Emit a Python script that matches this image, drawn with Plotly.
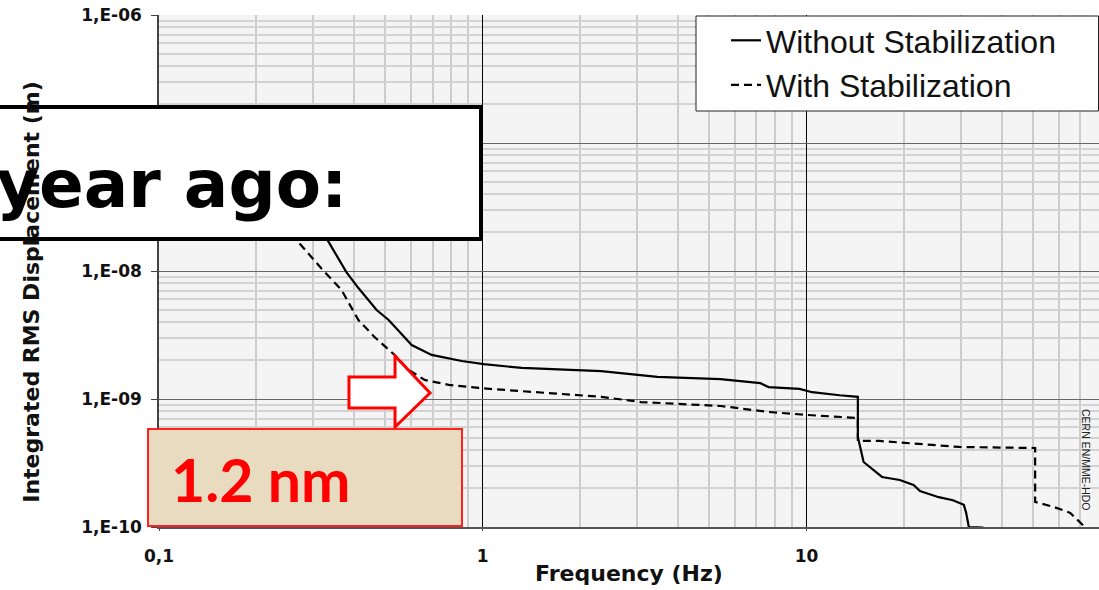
import math
import plotly.graph_objects as go

# ---- data ----
freq_without = [0.275, 0.334, 0.379, 0.413, 0.470, 0.512, 0.603, 0.695, 0.861, 1.007,
                1.32, 2.32, 3.46, 5.42, 7.20, 7.63, 9.51, 10.4, 12.65, 14.4,
                14.4, 14.6, 15.0, 17.1, 19.4, 21.4, 22.4, 25.6, 28.3, 30.6,
                31.1, 31.7, 35.0, 37.0]
disp_without = [3.59e-8, 1.69e-8, 9.8e-9, 7.36e-9, 4.96e-9, 4.14e-9, 2.64e-9, 2.21e-9, 1.98e-9, 1.87e-9,
                1.75e-9, 1.65e-9, 1.49e-9, 1.43e-9, 1.33e-9, 1.24e-9, 1.20e-9, 1.13e-9, 1.07e-9, 1.04e-9,
                5.05e-10, 4.37e-10, 3.22e-10, 2.46e-10, 2.33e-10, 2.13e-10, 1.91e-10, 1.71e-10, 1.62e-10, 1.49e-10,
                1.29e-10, 1.0e-10, 0.99e-10, 0.9e-10]

freq_with = [0.222, 0.269, 0.317, 0.366, 0.413, 0.463, 0.534, 0.590, 0.661, 0.785,
             0.972, 1.05, 2.32, 3.08, 5.42, 7.63, 10.07, 14.4, 14.4, 16.8,
             29.6, 50.8, 50.8, 58.2, 65.2, 72.6, 79.6]
disp_with = [3.59e-8, 1.69e-8, 1.05e-8, 7.11e-9, 4.14e-9, 3.05e-9, 2.21e-9, 1.69e-9, 1.41e-9, 1.29e-9,
             1.22e-9, 1.20e-9, 1.04e-9, 9.47e-10, 8.82e-10, 7.92e-10, 7.5e-10, 7.11e-10, 4.70e-10, 4.70e-10,
             4.22e-10, 4.14e-10, 1.57e-10, 1.43e-10, 1.29e-10, 1.0e-10, 7.9e-11]

series_names = ["Without Stabilization", "With Stabilization"]

x_tick_vals = [0.1, 1, 10]
x_tick_text = ["<b>0,1</b>", "<b>1</b>", "<b>10</b>"]
y_tick_vals = [1e-10, 1e-9, 1e-8, 1e-7, 1e-6]
y_tick_text = ["<b>1,E-10</b>", "<b>1,E-09</b>", "<b>1,E-08</b>", "<b>1,E-07</b>", "<b>1,E-06</b>"]

x_range = [0.1, 80]
y_range = [1e-10, 1e-6]

highlight_freq = 1
highlight_disp = 1e-9

# ---- layout geometry (pixels) ----
W, H = 1099, 590
ML, MR, MT, MB = 159, 0, 15, 63
PW, PH = W - ML - MR, H - MT - MB


def px(xp):
    return (xp - ML) / PW


def py(yp):
    return (H - MB - yp) / PH


FONT = "Liberation Sans, Arial, sans-serif"
BOLDF = "DejaVu Sans, Verdana, sans-serif"
HEAVY = "Lato, Inter, sans-serif"

x_minor = [m * 10 ** e for e in range(-1, 2) for m in range(2, 10)]
y_minor = [m * 10 ** e for e in range(-10, -6) for m in range(2, 10)]

fig = go.Figure()
fig.add_trace(go.Scatter(
    x=freq_without, y=disp_without, mode="lines", name=series_names[0],
    line=dict(color="#000000", width=2.2)))
fig.add_trace(go.Scatter(
    x=freq_with, y=disp_with, mode="lines", name=series_names[1],
    line=dict(color="#000000", width=2.2, dash="8px,5px")))

fig.update_xaxes(
    type="log", range=[math.log10(x_range[0]), math.log10(x_range[1])],
    tickmode="array", tickvals=x_tick_vals, ticktext=x_tick_text,
    tickfont=dict(family=BOLDF, size=17, color="#111"), ticks="outside", ticklen=2,
    tickcolor="#444", ticklabelstandoff=11,
    showgrid=True, gridcolor="#000000", gridwidth=1,
    minor=dict(tickmode="array", tickvals=x_minor, showgrid=True,
               gridcolor="#cdcdcd", gridwidth=1.5, ticks=""),
    showline=True, linecolor="#555", linewidth=2, zeroline=False,
    title=dict(text="<b>Frequency (Hz)</b>", font=dict(family=BOLDF, size=22, color="#111"),
               standoff=0),
)
fig.update_yaxes(
    type="log", range=[math.log10(y_range[0]), math.log10(y_range[1])],
    tickmode="array", tickvals=y_tick_vals, ticktext=y_tick_text,
    tickfont=dict(family=BOLDF, size=17, color="#111"), ticks="outside", ticklen=6,
    tickcolor="#444", ticklabelstandoff=6,
    showgrid=True, gridcolor="#666666", gridwidth=1,
    minor=dict(tickmode="array", tickvals=y_minor, showgrid=True,
               gridcolor="#d2d2d2", gridwidth=1.5, ticks=""),
    showline=True, linecolor="#444", linewidth=1.5, zeroline=False,
    title=dict(text="<b>Integrated RMS Displacement (m)</b>" + "&nbsp;" * 6,
               font=dict(family=BOLDF, size=22, color="#111"), standoff=36),
)

shapes = []
# legend frame
shapes.append(dict(type="rect", xref="paper", yref="paper",
                   x0=px(696), x1=px(1098.5), y0=py(111), y1=py(16),
                   fillcolor="white", line=dict(color="#222", width=1), layer="above"))
# red reference lines
shapes.append(dict(type="line", xref="x", yref="paper",
                   x0=math.log10(highlight_freq), x1=math.log10(highlight_freq),
                   y0=0, y1=py(7), line=dict(color="#ff0000", width=2), layer="above"))
shapes.append(dict(type="line", xref="paper", yref="y",
                   x0=px(153), x1=1, y0=math.log10(highlight_disp), y1=math.log10(highlight_disp),
                   line=dict(color="#ff0000", width=2), layer="above"))
# overlay title box
shapes.append(dict(type="rect", xref="paper", yref="paper",
                   x0=px(-10), x1=px(481), y0=py(239), y1=py(107),
                   fillcolor="white", line=dict(color="black", width=4), layer="above"))
# arrow
ax = [349, 395, 395, 430, 395, 395, 349]
ay = [377, 377, 356, 393, 427, 408, 408]
path = "M " + " L ".join(f"{px(a):.4f},{py(b):.4f}" for a, b in zip(ax, ay)) + " Z"
shapes.append(dict(type="path", xref="paper", yref="paper", path=path,
                   fillcolor="white", line=dict(color="#ff0000", width=3), layer="above"))
# value box
shapes.append(dict(type="rect", xref="paper", yref="paper",
                   x0=px(148), x1=px(462), y0=py(526), y1=py(429),
                   fillcolor="#e9dbc0", line=dict(color="#ff2020", width=2), layer="above"))

annotations = [
    dict(text="<b>year ago:</b>", xref="paper", yref="paper", x=px(-6), y=py(184),
         xanchor="left", yanchor="middle", showarrow=False,
         font=dict(family=BOLDF, size=66, color="black")),
    dict(text="<b>1.2 nm</b>", xref="paper", yref="paper", x=px(169), y=py(479),
         xanchor="left", yanchor="middle", showarrow=False,
         font=dict(family=HEAVY, size=59, color="#ff0000")),
    dict(text="CERN EN/MME-HDO", xref="paper", yref="paper", x=px(1086), y=py(460),
         xanchor="center", yanchor="middle", showarrow=False, textangle=90,
         font=dict(family=FONT, size=10.5, color="#222")),
]

fig.update_layout(
    width=W, height=H,
    margin=dict(l=ML, r=MR, t=MT, b=MB, autoexpand=False),
    paper_bgcolor="white", plot_bgcolor="#f4f4f4",
    font=dict(family=FONT, color="#111"),
    showlegend=True,
    legend=dict(x=px(726), y=py(13), xanchor="left", yanchor="top",
                bgcolor="rgba(0,0,0,0)", borderwidth=0,
                font=dict(family=FONT, size=32, color="#111"),
                itemwidth=30, tracegroupgap=0),
    shapes=shapes, annotations=annotations,
)

fig.write_html("out.html")
